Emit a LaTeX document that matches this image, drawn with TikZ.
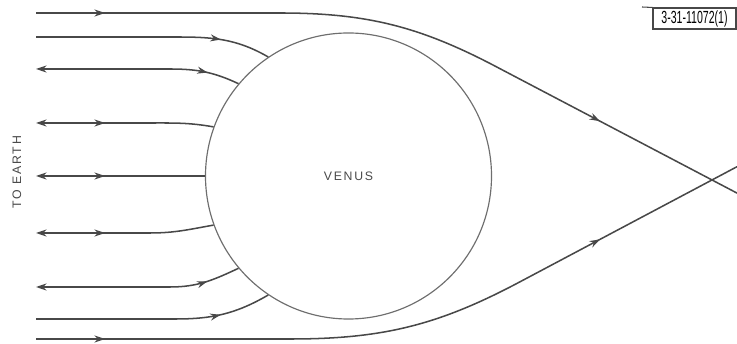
\documentclass[tikz,border=0pt]{standalone}
\usepackage{fontspec}
\usepackage{graphicx}
\setsansfont{Liberation Sans}
\newfontfamily\lettering[LetterSpace=14]{Liberation Sans}
\usetikzlibrary{arrows.meta,decorations.markings}
\definecolor{ink}{HTML}{484848}
\definecolor{rim}{HTML}{6E6E6E}

\begin{document}
\begin{tikzpicture}[x=0.03cm, y=0.03cm, >={Stealth[length=9pt,width=6pt]},
  ray/.style={draw=ink, color=ink, line width=1.3pt},
  fwd/.style={postaction={decorate, decoration={markings, mark=at position #1 with {\arrow{Stealth[length=9pt,width=6pt]}}}}},
  tag/.style={draw=ink, line width=0.9pt, inner sep=0pt, minimum width=2.49cm, minimum height=0.63cm}]
\useasboundingbox (0,0) rectangle (737,344);
% the planet
\node[circle, draw=rim, line width=1pt, minimum size=8.58cm, inner sep=0pt, text=ink,
  font=\lettering\fontsize{10.5}{12}\selectfont] (venus) at (348.5,168) {VENUS};
\node[rotate=90, text=ink, font=\lettering\fontsize{10.5}{12}\selectfont] (earth) at (17,172) {TO EARTH};
% figure tag
\node[tag] (tag) at (694.5,325.5) {\scalebox{0.6}[1]{\sffamily\fontsize{15}{15}\selectfont 3-31-11072(1)}};
\coordinate (tagtail) at (642,337);
\draw[ink, line width=0.9pt] (tagtail) -- (tag.north west);
% ray end points
\foreach \n/\y in {1/331,2/307,3/275,4/221,5/168,6/111,7/57,8/25,9/5}
  \coordinate (l\n) at (36,\y);
\foreach \n/\x/\y in {1/280/331,2/175/307,3/170/275,4/150/221,6/150/111,7/170/57,8/175/25,9/290/5}
  \coordinate (k\n) at (\x,\y);
\coordinate (b1) at (500,275.3);
\coordinate (r1) at (737,150.9);
\coordinate (b9) at (520,62.2);
\coordinate (r9) at (737,177.3);
% rays
\draw[ray, fwd=2.07cm, fwd=-4.64cm] (l1) -- (k1) to[out=0,in=152] (b1) -- (r1);
\draw[ray, fwd=5.55cm] (l2) -- (k2) to[out=0,in=150] (venus.124);
\draw[ray, <-, fwd=5.16cm] (l3) -- (k3) to[out=0,in=155] (venus.140);
\draw[ray, <-, fwd=2.07cm] (l4) -- (k4) to[out=0,in=170] (venus.160);
\draw[ray, <-, fwd=2.07cm] (l5) -- (venus.west);
\draw[ray, <-, fwd=2.07cm] (l6) -- (k6) to[out=0,in=190] (venus.200);
\draw[ray, <-, fwd=5.16cm] (l7) -- (k7) to[out=0,in=205] (venus.220);
\draw[ray, fwd=5.55cm] (l8) -- (k8) to[out=0,in=210] (venus.236);
\draw[ray, fwd=2.07cm, fwd=-4.65cm] (l9) -- (k9) to[out=0,in=208] (b9) -- (r9);
\end{tikzpicture}
\end{document}
